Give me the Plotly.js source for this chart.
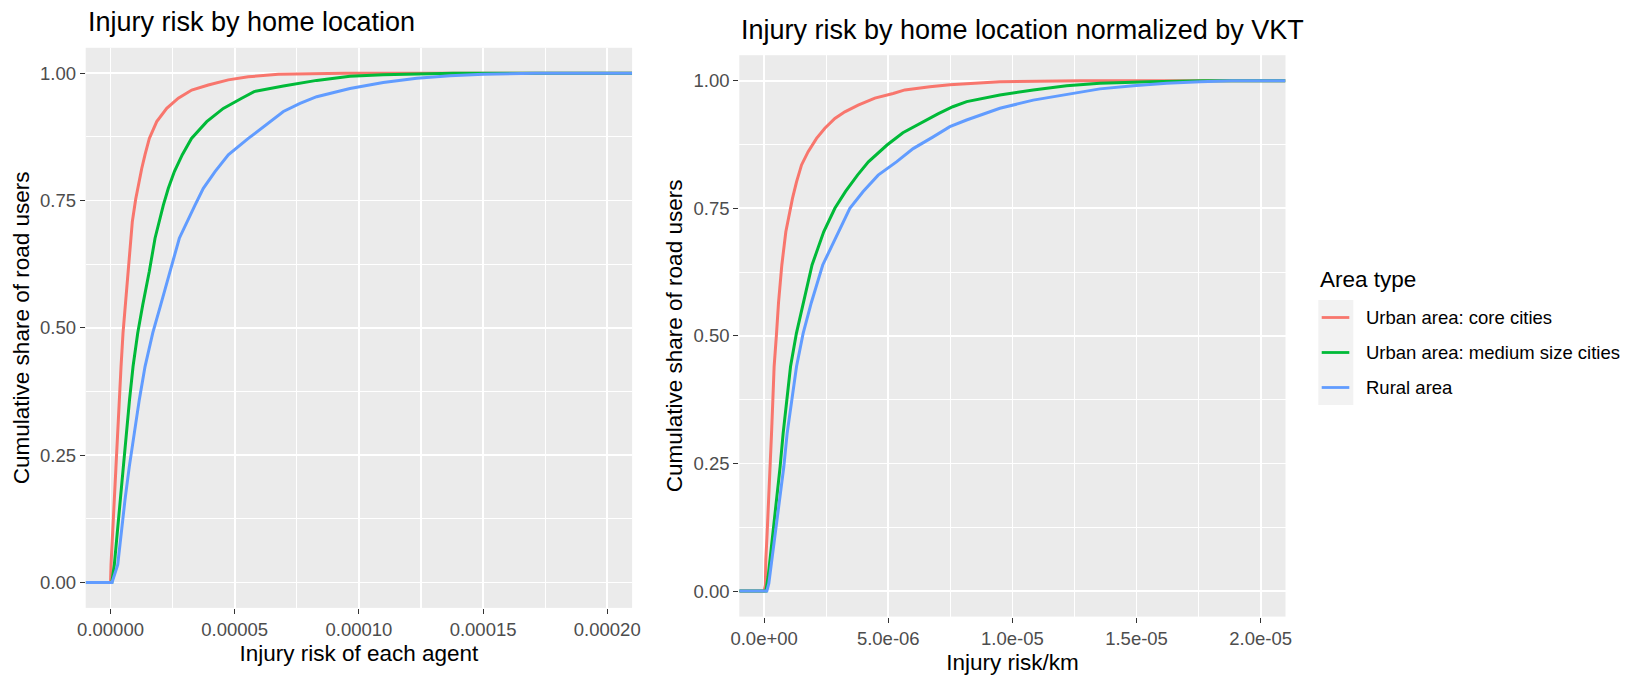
<!DOCTYPE html>
<html>
<head>
<meta charset="utf-8">
<script src="https://cdn.plot.ly/plotly-3.0.1.min.js"></script>
<style>
html, body { margin: 0; padding: 0; background: #ffffff; }
#chart { width: 1636px; height: 675px; }
</style>
</head>
<body>
<div id="chart"></div>
<script>
// ---------------- data ----------------
const seriesNames = ["Urban area: core cities", "Urban area: medium size cities", "Rural area"];
const legendTitle = "Area type";

// Left panel: injury risk of each agent (ECDF points)
const agentCoreX = [0, 0.20e-6, 0.81e-6, 1.49e-6, 2.13e-6, 2.82e-6, 3.50e-6, 4.23e-6, 5.03e-6, 6.12e-6, 7.57e-6, 8.78e-6, 10.14e-6, 10.95e-6, 12.56e-6, 13.89e-6, 15.62e-6, 18.60e-6, 22.62e-6, 27.29e-6, 32.69e-6, 39.37e-6, 47.42e-6, 55.48e-6, 67.55e-6, 94.4e-6];
const agentCoreY = [0, 0.035, 0.097, 0.163, 0.228, 0.294, 0.359, 0.424, 0.490, 0.555, 0.643, 0.709, 0.753, 0.774, 0.813, 0.840, 0.872, 0.905, 0.931, 0.951, 0.967, 0.977, 0.987, 0.993, 0.998, 1.0];

const agentMediumX = [0.5e-6, 1.53e-6, 2.09e-6, 2.62e-6, 3.30e-6, 3.95e-6, 5.23e-6, 6.44e-6, 7.65e-6, 9.06e-6, 10.95e-6, 12.96e-6, 15.62e-6, 17.92e-6, 21.26e-6, 23.27e-6, 25.7e-6, 28.9e-6, 32.6e-6, 38.73e-6, 45.41e-6, 52.82e-6, 57.8e-6, 69.6e-6, 83.0e-6, 96.4e-6, 109.7e-6, 138e-6];
const agentMediumY = [0, 0.035, 0.065, 0.097, 0.130, 0.163, 0.228, 0.294, 0.359, 0.424, 0.490, 0.545, 0.611, 0.676, 0.741, 0.774, 0.807, 0.840, 0.872, 0.905, 0.931, 0.951, 0.964, 0.975, 0.986, 0.994, 0.997, 1.0];

const agentRuralX = [0.6e-6, 2.90e-6, 4.23e-6, 5.84e-6, 7.57e-6, 9.58e-6, 11.59e-6, 13.89e-6, 17.0e-6, 20.2e-6, 23.9e-6, 27.70e-6, 34.02e-6, 37.36e-6, 42.07e-6, 47.42e-6, 55.48e-6, 64.5e-6, 69.6e-6, 76.3e-6, 83.0e-6, 96.4e-6, 109.8e-6, 123.3e-6, 136.7e-6, 150.1e-6, 171e-6];
const agentRuralY = [0, 0.035, 0.097, 0.163, 0.228, 0.294, 0.359, 0.424, 0.490, 0.545, 0.611, 0.676, 0.741, 0.774, 0.807, 0.840, 0.872, 0.905, 0.925, 0.941, 0.954, 0.970, 0.982, 0.990, 0.995, 0.998, 1.0];

// Right panel: injury risk per km
const kmCoreX = [0, 0.05e-6, 0.068e-6, 0.121e-6, 0.189e-6, 0.242e-6, 0.298e-6, 0.351e-6, 0.403e-6, 0.500e-6, 0.58e-6, 0.713e-6, 0.874e-6, 1.144e-6, 1.305e-6, 1.507e-6, 1.773e-6, 2.111e-6, 2.446e-6, 2.849e-6, 3.251e-6, 3.787e-6, 4.460e-6, 5.197e-6, 5.67e-6, 6.676e-6, 7.482e-6, 9.496e-6, 12.72e-6];
const kmCoreY = [0, 0.012, 0.061, 0.113, 0.178, 0.244, 0.309, 0.374, 0.440, 0.505, 0.565, 0.639, 0.704, 0.770, 0.802, 0.835, 0.861, 0.887, 0.907, 0.926, 0.939, 0.952, 0.966, 0.975, 0.982, 0.988, 0.992, 0.998, 1.0];

const kmMediumX = [0.07e-6, 0.161e-6, 0.270e-6, 0.338e-6, 0.500e-6, 0.645e-6, 0.766e-6, 0.902e-6, 1.064e-6, 1.30e-6, 1.55e-6, 1.93e-6, 2.40e-6, 2.849e-6, 3.28e-6, 3.76e-6, 4.20e-6, 4.95e-6, 5.59e-6, 6.41e-6, 7.0e-6, 7.6e-6, 8.16e-6, 9.496e-6, 10.838e-6, 12.184e-6, 13.525e-6, 15.54e-6, 17.69e-6];
const kmMediumY = [0, 0.028, 0.074, 0.113, 0.178, 0.244, 0.309, 0.374, 0.440, 0.505, 0.560, 0.639, 0.704, 0.750, 0.783, 0.815, 0.841, 0.874, 0.898, 0.920, 0.935, 0.949, 0.959, 0.972, 0.982, 0.990, 0.995, 0.998, 1.0];

const kmRuralX = [0.109e-6, 0.189e-6, 0.338e-6, 0.443e-6, 0.604e-6, 0.794e-6, 0.927e-6, 1.116e-6, 1.305e-6, 1.571e-6, 1.90e-6, 2.36e-6, 2.981e-6, 3.453e-6, 3.989e-6, 4.593e-6, 5.33e-6, 6.003e-6, 6.809e-6, 7.482e-6, 8.155e-6, 9.496e-6, 10.838e-6, 12.184e-6, 13.525e-6, 14.867e-6, 16.213e-6, 17.554e-6, 18.83e-6];
const kmRuralY = [0, 0.015, 0.074, 0.113, 0.178, 0.244, 0.309, 0.374, 0.440, 0.505, 0.565, 0.639, 0.704, 0.750, 0.783, 0.815, 0.841, 0.867, 0.890, 0.910, 0.923, 0.946, 0.962, 0.973, 0.984, 0.990, 0.995, 0.998, 1.0];

// Tick labels
const yTickVals = [0, 0.25, 0.5, 0.75, 1];
const yTickText = ["0.00", "0.25", "0.50", "0.75", "1.00"];
const yMinorVals = [0.125, 0.375, 0.625, 0.875];
const agentTickVals = [0, 5e-5, 1e-4, 1.5e-4, 2e-4];
const agentTickText = ["0.00000", "0.00005", "0.00010", "0.00015", "0.00020"];
const agentMinorVals = [2.5e-5, 7.5e-5, 1.25e-4, 1.75e-4];
const kmTickVals = [0, 5e-6, 1e-5, 1.5e-5, 2e-5];
const kmTickText = ["0.0e+00", "5.0e-06", "1.0e-05", "1.5e-05", "2.0e-05"];
const kmMinorVals = [2.5e-6, 7.5e-6, 1.25e-5, 1.75e-5];

// ---------------- styling ----------------
const W = 1636, H = 675;
const colors = ["#F8766D", "#00BA38", "#619CFF"];
const FONT = '"Liberation Sans", Arial, sans-serif';
const px = v => v / W;
const py = v => 1 - v / H;

const agentRange = [-1.0e-5, 2.1e-4];
const kmRange = [-1.0e-6, 2.1e-5];
const yRange = [-0.05, 1.05];

// ECDF lines extend to the panel edges (-Inf / +Inf padding)
function ecdfTrace(xs, ys, i, xa, ya, range) {
  return {
    type: "scatter", mode: "lines",
    x: [range[0]].concat(xs, [range[1]]),
    y: [0].concat(ys, [1]),
    name: seriesNames[i],
    line: { color: colors[i], width: 3, shape: "linear" },
    xaxis: xa, yaxis: ya, hoverinfo: "skip", showlegend: false
  };
}

const traces = [
  ecdfTrace(agentCoreX, agentCoreY, 0, "x", "y", agentRange),
  ecdfTrace(agentMediumX, agentMediumY, 1, "x", "y", agentRange),
  ecdfTrace(agentRuralX, agentRuralY, 2, "x", "y", agentRange),
  ecdfTrace(kmCoreX, kmCoreY, 0, "x2", "y2", kmRange),
  ecdfTrace(kmMediumX, kmMediumY, 1, "x2", "y2", kmRange),
  ecdfTrace(kmRuralX, kmRuralY, 2, "x2", "y2", kmRange)
];

function axisBase() {
  return {
    showline: false, zeroline: false, fixedrange: true,
    ticks: "outside", ticklen: 5, tickwidth: 1.1, tickcolor: "#333333",
    showgrid: true, gridcolor: "#FFFFFF", gridwidth: 1.8,
    tickfont: { family: FONT, size: 18.5, color: "#4D4D4D" },
    tickmode: "array"
  };
}
function minor(vals) {
  return { tickmode: "array", tickvals: vals, showgrid: true, gridcolor: "#FFFFFF", gridwidth: 1.1, ticks: "" };
}

const leftL = 85.7, leftR = 632.1, leftT = 47.8, leftB = 607.9;
const rightL = 739.3, rightR = 1285.5, rightT = 55.2, rightB = 616.6;

const layout = {
  width: W, height: H,
  margin: { l: 0, r: 0, t: 0, b: 0, pad: 0 },
  paper_bgcolor: "#FFFFFF", plot_bgcolor: "#EBEBEB",
  showlegend: false,
  font: { family: FONT, color: "#000000" },
  xaxis: Object.assign(axisBase(), {
    domain: [px(leftL), px(leftR)], range: agentRange, anchor: "y",
    tickvals: agentTickVals, ticktext: agentTickText, minor: minor(agentMinorVals),
    title: { text: "Injury risk of each agent", font: { family: FONT, size: 22.5, color: "#000" }, standoff: 6 }
  }),
  yaxis: Object.assign(axisBase(), {
    domain: [py(leftB), py(leftT)], range: yRange, anchor: "x",
    tickvals: yTickVals, ticktext: yTickText, minor: minor(yMinorVals),
    title: { text: "Cumulative share of road users", font: { family: FONT, size: 22.5, color: "#000" }, standoff: 4 }
  }),
  xaxis2: Object.assign(axisBase(), {
    domain: [px(rightL), px(rightR)], range: kmRange, anchor: "y2",
    tickvals: kmTickVals, ticktext: kmTickText, minor: minor(kmMinorVals),
    title: { text: "Injury risk/km", font: { family: FONT, size: 22.5, color: "#000" }, standoff: 6 }
  }),
  yaxis2: Object.assign(axisBase(), {
    domain: [py(rightB), py(rightT)], range: yRange, anchor: "x2",
    tickvals: yTickVals, ticktext: yTickText, minor: minor(yMinorVals),
    title: { text: "Cumulative share of road users", font: { family: FONT, size: 22.5, color: "#000" }, standoff: 4 }
  }),
  annotations: [],
  shapes: []
};

// Panel titles
layout.annotations.push({
  xref: "paper", yref: "paper", x: px(leftL), y: py(22.3), xanchor: "left", yanchor: "middle",
  text: "Injury risk by home location", showarrow: false,
  font: { family: FONT, size: 27, color: "#000" }
});
layout.annotations.push({
  xref: "paper", yref: "paper", x: px(rightL), y: py(30.2), xanchor: "left", yanchor: "middle",
  text: "Injury risk by home location normalized by VKT", showarrow: false,
  font: { family: FONT, size: 27, color: "#000" }
});

// Legend (drawn like ggplot's guide)
const legX = 1318.3, legKeyW = 35, legTop = 300, legKeyH = 35;
layout.annotations.push({
  xref: "paper", yref: "paper", x: px(legX), y: py(280), xanchor: "left", yanchor: "middle",
  text: legendTitle, showarrow: false, font: { family: FONT, size: 22.5, color: "#000" }
});
layout.shapes.push({
  type: "rect", xref: "paper", yref: "paper",
  x0: px(legX), x1: px(legX + legKeyW), y0: py(legTop + 3 * legKeyH), y1: py(legTop),
  fillcolor: "#F2F2F2", line: { width: 0 }, layer: "below"
});
seriesNames.forEach((name, i) => {
  const cy = legTop + legKeyH * (i + 0.5);
  layout.shapes.push({
    type: "line", xref: "paper", yref: "paper",
    x0: px(legX + 3.4), x1: px(legX + 31), y0: py(cy), y1: py(cy),
    line: { color: colors[i], width: 2.8 }
  });
  layout.annotations.push({
    xref: "paper", yref: "paper", x: px(1364), y: py(cy), xanchor: "left", yanchor: "middle",
    text: name, showarrow: false, font: { family: FONT, size: 18.5, color: "#000" }
  });
});

Plotly.newPlot("chart", traces, layout, { staticPlot: true, displayModeBar: false });
</script>
</body>
</html>
